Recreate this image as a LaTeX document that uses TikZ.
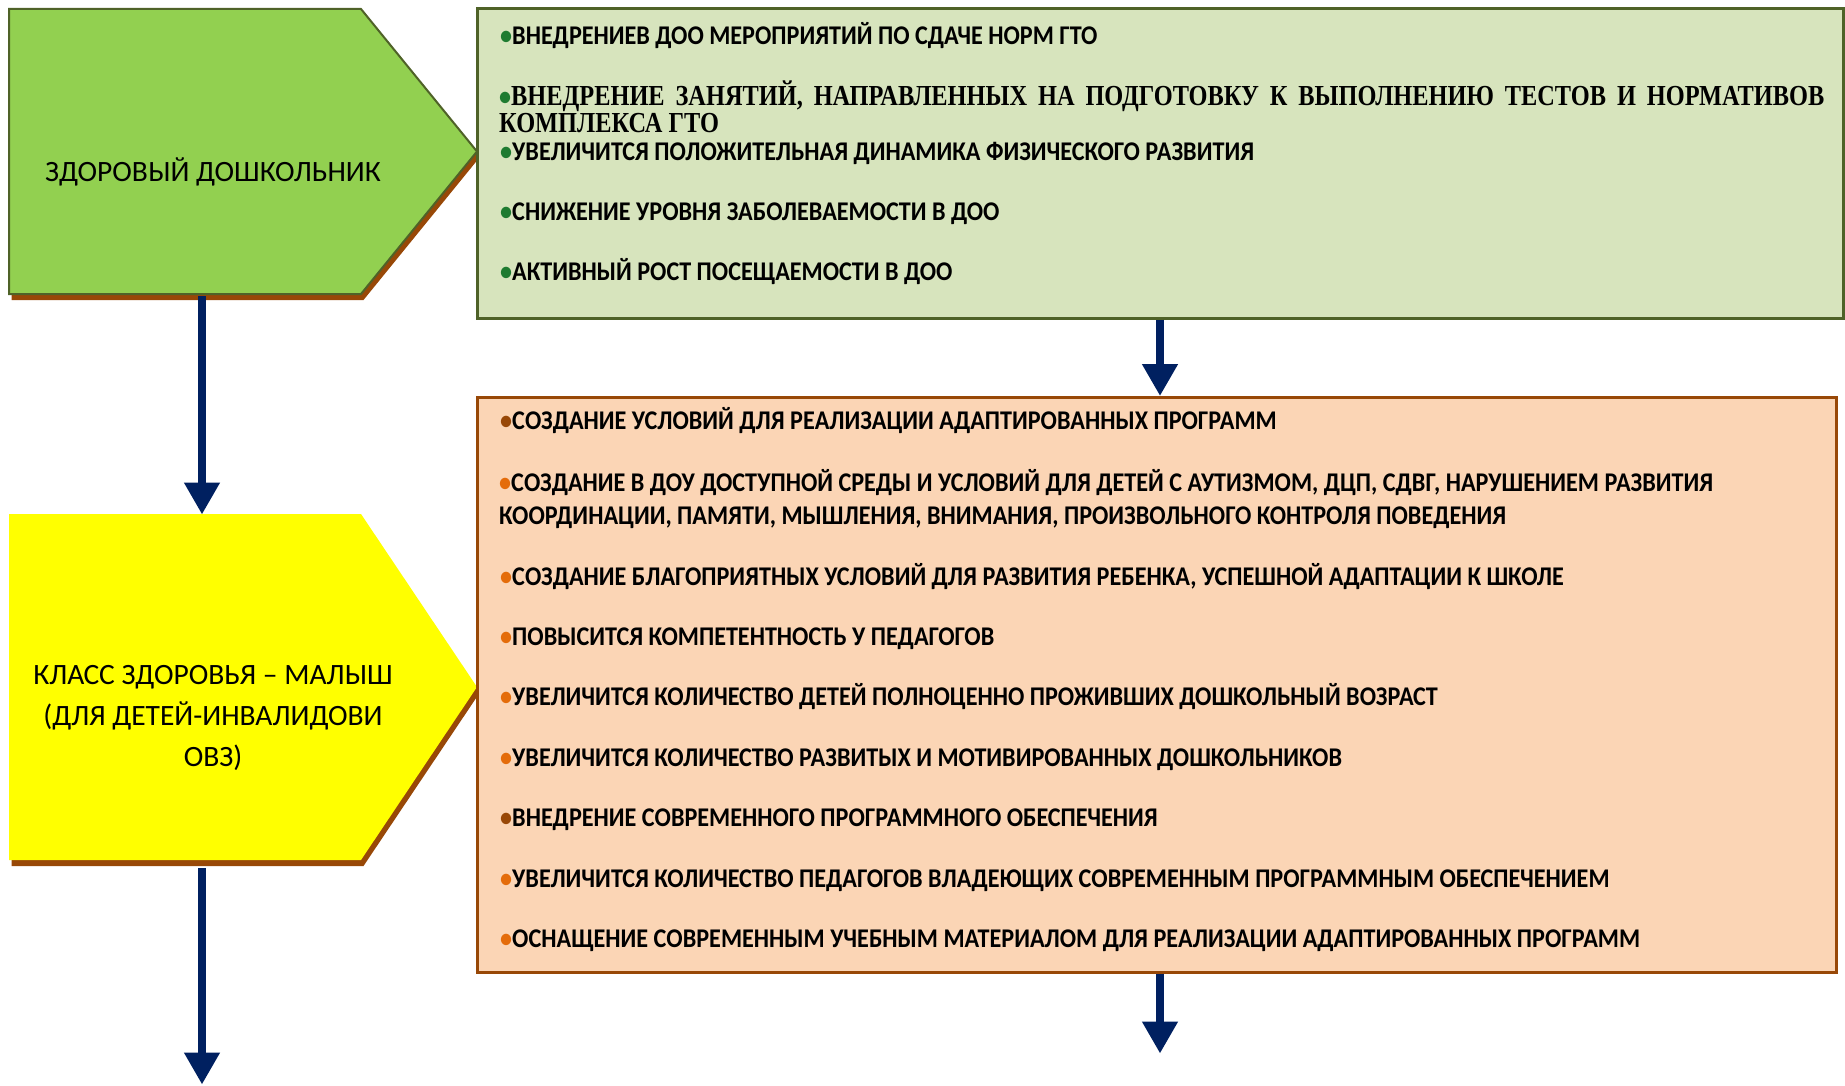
\documentclass[tikz,border=0pt]{standalone}
\usepackage{fontspec}
\setmainfont{Carlito}
\newfontfamily\itemfont[FakeStretch=0.895]{Carlito}
\newfontfamily\serifitem[FakeStretch=0.84]{Liberation Serif}
\usetikzlibrary{arrows, shapes, positioning, shadows}

\definecolor{leafgreen}{HTML}{92D050}
\definecolor{olivedrab}{HTML}{4F6228}
\definecolor{rust}{HTML}{984807}
\definecolor{palegreen}{HTML}{D7E4BD}
\definecolor{peach}{HTML}{FBD5B5}
\definecolor{navyblue}{HTML}{002060}
\definecolor{lemon}{HTML}{FFFF00}
\definecolor{gdot}{HTML}{1E7B30}
\definecolor{bdot}{HTML}{984807}
\definecolor{odot}{HTML}{E46C0A}

\tikzset{
	tagbox/.style = {rectangle, inner sep=0pt, outer sep=0pt, minimum width=468pt},
	tagshape/.style = {drop shadow={shadow xshift=2.5pt, shadow yshift=-6pt, fill=rust, opacity=1}},
	tagtext/.style = {align=center, font=\fontsize{29.5}{41}\selectfont},
	panel/.style = {draw, rectangle, line width=3pt, inner sep=0pt},
	item/.style = {anchor=west, inner sep=0pt, text height=17pt, text depth=0pt,
		font=\itemfont\bfseries\fontsize{27}{33}\selectfont},
	flow/.style = {-triangle 60, line width=8pt, draw=navyblue}
}

\begin{document}
\begin{tikzpicture}[x=1pt, y=-1pt]
	\useasboundingbox (0,0) rectangle (1845,1086);
	% left column
	\node [tagbox, minimum height=285pt] (healthy) at (243,151.5) {};
	\path [tagshape, fill=leafgreen, draw=olivedrab, line width=2pt] (healthy.north west) -- ([xshift=-116pt]healthy.north east) -- (healthy.east) -- ([xshift=-116pt]healthy.south east) -- (healthy.south west) -- cycle;
	\node [tagtext] (healthy text) at (213,172) {ЗДОРОВЫЙ ДОШКОЛЬНИК};
	\node [tagbox, minimum height=346pt] (kid) at (243,687) {};
	\path [tagshape, fill=lemon] (kid.north west) -- ([xshift=-116pt]kid.north east) -- (kid.east) -- ([xshift=-116pt]kid.south east) -- (kid.south west) -- cycle;
	\node [tagtext] (kid text) at (213,718) {КЛАСС ЗДОРОВЬЯ – МАЛЫШ\\(ДЛЯ ДЕТЕЙ-ИНВАЛИДОВИ\\ОВЗ)};
	% right column
	\node [panel, fill=palegreen, draw=olivedrab, minimum width=1366pt, minimum height=309pt] (goals) at (1160,163.5) {};
	\node [panel, fill=peach, draw=rust, minimum width=1359pt, minimum height=575pt] (support) at (1156.5,684.5) {};
	% items of the green panel
	\node [item] (g1) at (500,36.5) {{\color{gdot}•}ВНЕДРЕНИЕВ ДОО МЕРОПРИЯТИЙ ПО СДАЧЕ НОРМ ГТО};
	\node [anchor=north west, inner sep=0pt, text width=1325pt, align=justify, font=\serifitem\bfseries\fontsize{29}{27}\selectfont] (g2) at (499,81) {{\itemfont\fontsize{27}{27}\selectfont\color{gdot}•}ВНЕДРЕНИЕ ЗАНЯТИЙ, НАПРАВЛЕННЫХ НА ПОДГОТОВКУ К ВЫПОЛНЕНИЮ ТЕСТОВ И НОРМАТИВОВ\linebreak КОМПЛЕКСА ГТО};
	\node [item] (g3) at (500,152) {{\color{gdot}•}УВЕЛИЧИТСЯ ПОЛОЖИТЕЛЬНАЯ ДИНАМИКА ФИЗИЧЕСКОГО РАЗВИТИЯ};
	\node [item] (g4) at (500,212) {{\color{gdot}•}СНИЖЕНИЕ УРОВНЯ ЗАБОЛЕВАЕМОСТИ В ДОО};
	\node [item] (g5) at (500,272) {{\color{gdot}•}АКТИВНЫЙ РОСТ ПОСЕЩАЕМОСТИ В ДОО};
	% items of the orange panel
	\node [item] (o1) at (500,421) {{\color{bdot}•}СОЗДАНИЕ УСЛОВИЙ ДЛЯ РЕАЛИЗАЦИИ АДАПТИРОВАННЫХ ПРОГРАММ};
	\node [item, align=left, text height=, text depth=] (o2) at (499,499) {{\color{odot}•}СОЗДАНИЕ В ДОУ ДОСТУПНОЙ СРЕДЫ И УСЛОВИЙ ДЛЯ ДЕТЕЙ С АУТИЗМОМ, ДЦП, СДВГ, НАРУШЕНИЕМ РАЗВИТИЯ\\КООРДИНАЦИИ, ПАМЯТИ, МЫШЛЕНИЯ, ВНИМАНИЯ, ПРОИЗВОЛЬНОГО КОНТРОЛЯ ПОВЕДЕНИЯ};
	\node [item] (o3) at (500,577) {{\color{odot}•}СОЗДАНИЕ БЛАГОПРИЯТНЫХ УСЛОВИЙ ДЛЯ РАЗВИТИЯ РЕБЕНКА, УСПЕШНОЙ АДАПТАЦИИ К ШКОЛЕ};
	\node [item] (o4) at (500,637) {{\color{odot}•}ПОВЫСИТСЯ КОМПЕТЕНТНОСТЬ У ПЕДАГОГОВ};
	\node [item] (o5) at (500,697) {{\color{odot}•}УВЕЛИЧИТСЯ КОЛИЧЕСТВО ДЕТЕЙ ПОЛНОЦЕННО ПРОЖИВШИХ ДОШКОЛЬНЫЙ ВОЗРАСТ};
	\node [item] (o6) at (500,758) {{\color{odot}•}УВЕЛИЧИТСЯ КОЛИЧЕСТВО РАЗВИТЫХ И МОТИВИРОВАННЫХ ДОШКОЛЬНИКОВ};
	\node [item] (o7) at (500,818) {{\color{bdot}•}ВНЕДРЕНИЕ СОВРЕМЕННОГО ПРОГРАММНОГО ОБЕСПЕЧЕНИЯ};
	\node [item] (o8) at (500,879) {{\color{odot}•}УВЕЛИЧИТСЯ КОЛИЧЕСТВО ПЕДАГОГОВ ВЛАДЕЮЩИХ СОВРЕМЕННЫМ ПРОГРАММНЫМ ОБЕСПЕЧЕНИЕМ};
	\node [item] (o9) at (500,939) {{\color{odot}•}ОСНАЩЕНИЕ СОВРЕМЕННЫМ УЧЕБНЫМ МАТЕРИАЛОМ ДЛЯ РЕАЛИЗАЦИИ АДАПТИРОВАННЫХ ПРОГРАММ};
	% arrows
	\coordinate (left end) at (202,1084);
	\coordinate (right end) at (1160,1053);
	\draw [flow] ([xshift=-41pt,yshift=-2pt]healthy.south) -- ([xshift=-41pt]kid.north);
	\draw [flow] ([xshift=-41pt,yshift=-8pt]kid.south) -- (left end);
	\draw [flow] (goals.south) -- (support.north -| goals.south);
	\draw [flow] (support.south -| goals.south) -- (right end);
\end{tikzpicture}
\end{document}
